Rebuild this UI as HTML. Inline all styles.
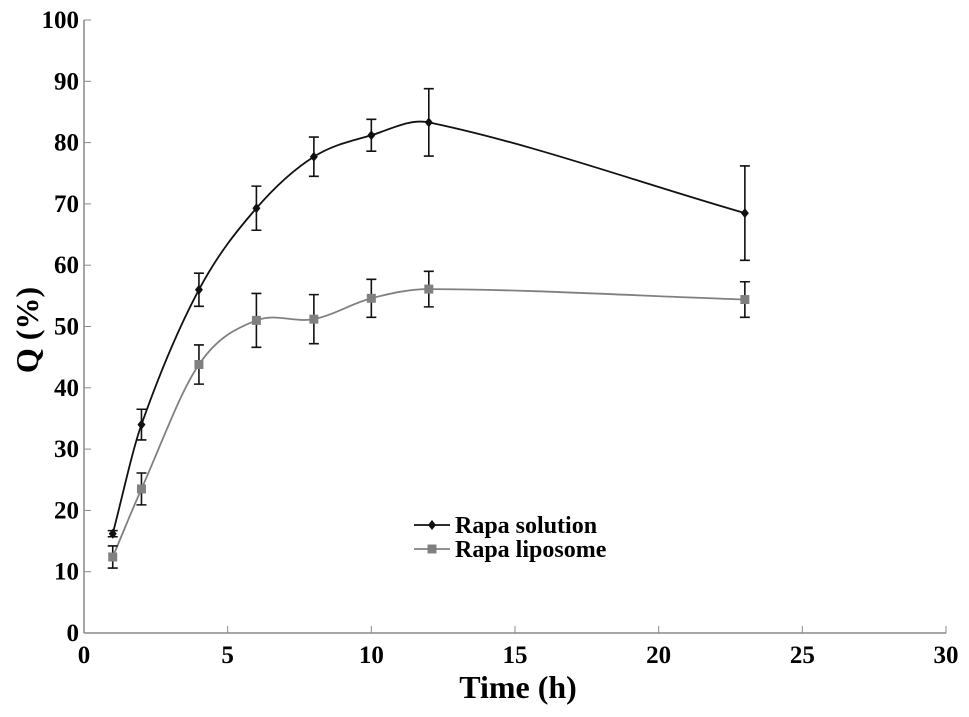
<!DOCTYPE html>
<html><head><meta charset="utf-8"><style>
html,body{margin:0;padding:0;background:#fff;}
svg{display:block;font-family:"Liberation Serif",serif;font-weight:bold;}
</style></head><body>
<svg id="chart" width="969" height="717"></svg>
<script>
const xValues=[1,2,4,6,8,10,12,23];
const solution=[16.2,34,56,69.3,77.7,81.2,83.3,68.5];
const solutionErr=[0.5,2.5,2.7,3.6,3.2,2.6,5.5,7.7];
const liposome=[12.4,23.5,43.8,51,51.2,54.6,56.1,54.4];
const liposomeErr=[1.8,2.6,3.2,4.4,4,3.1,2.9,2.9];
const xTicks=[0,5,10,15,20,25,30];
const yTicks=[0,10,20,30,40,50,60,70,80,90,100];

const NS="http://www.w3.org/2000/svg";
const svg=document.getElementById('chart');
const X0=84,X1=946,Y0=633,Y1=20;
const sx=v=>X0+(X1-X0)*v/30;
const sy=v=>Y0-(Y0-Y1)*v/100;
function mk(tag,attrs,parent){const e=document.createElementNS(NS,tag);for(const k in attrs)e.setAttribute(k,attrs[k]);(parent||svg).appendChild(e);return e;}

const axes=mk('g',{});


mk('line',{x1:X0,y1:Y1,x2:X0,y2:Y0,stroke:'#888','stroke-width':1.5},axes);
mk('line',{x1:X0,y1:Y0,x2:X1,y2:Y0,stroke:'#888','stroke-width':1.5},axes);
yTicks.forEach(t=>{
  mk('line',{x1:X0,y1:sy(t),x2:X0+7,y2:sy(t),stroke:'#888','stroke-width':1},axes);
  const tx=mk('text',{x:X0-5,y:sy(t)+8,'text-anchor':'end','font-size':25},axes);
  tx.textContent=t;
  
  
});
xTicks.forEach(t=>{
  mk('line',{x1:sx(t),y1:Y0,x2:sx(t),y2:Y0-7,stroke:'#888','stroke-width':1},axes);
  const tx=mk('text',{x:sx(t),y:Y0+30,'text-anchor':'middle','font-size':25},axes);
  tx.textContent=t;
  
  
});
const xt=mk('text',{x:518,y:698,'text-anchor':'middle','font-size':32});
xt.textContent='Time (h)';


const yt=mk('text',{x:0,y:0,'text-anchor':'middle','font-size':32,transform:'translate(38,330) rotate(-90)'});
yt.textContent='Q (%)';



function smooth(pts){
  const n=pts.length,m=[];
  for(let i=0;i<n;i++){
    const a=pts[Math.max(i-1,0)],b=pts[Math.min(i+1,n-1)];
    m.push((b[1]-a[1])/(b[0]-a[0]));
  }
  let d=`M${pts[0][0]},${pts[0][1]}`;
  for(let i=0;i<n-1;i++){
    const p1=pts[i],p2=pts[i+1],h=(p2[0]-p1[0])/3;
    d+=` C${p1[0]+h},${p1[1]+m[i]*h} ${p2[0]-h},${p2[1]-m[i+1]*h} ${p2[0]},${p2[1]}`;
  }
  return d;
}
function series(vals,errs,color,marker,name){
  const g=mk('g',{});
  
  
  const pts=xValues.map((x,i)=>[sx(x),sy(vals[i])]);
  const p=mk('path',{d:smooth(pts),fill:'none',stroke:color,'stroke-width':1.8},g);
  
  
  xValues.forEach((x,i)=>{
    const cx=sx(x),hi=sy(vals[i]+errs[i]),lo=sy(vals[i]-errs[i]);
    const eb=mk('path',{d:`M${cx},${hi}V${lo}M${cx-5},${hi}H${cx+5}M${cx-5},${lo}H${cx+5}`,stroke:'#111','stroke-width':1.6,fill:'none'},g);
    
    
    const cy=sy(vals[i]);
    let m;
    if(marker==='diamond') m=mk('path',{d:`M${cx},${cy-5}L${cx+4},${cy}L${cx},${cy+5}L${cx-4},${cy}Z`,fill:color},g);
    else m=mk('rect',{x:cx-4.5,y:cy-4.5,width:9,height:9,fill:color},g);
    
    
  });
}
series(liposome,liposomeErr,'#808080','square','liposome-series');
series(solution,solutionErr,'#111','diamond','solution-series');

const lg=mk('g',{});


[['Rapa solution','#111','diamond',525],['Rapa liposome','#808080','square',549]].forEach(([t,c,m,y])=>{
  const e=mk('g',{},lg);
  
  
  mk('line',{x1:414,y1:y,x2:450,y2:y,stroke:c,'stroke-width':1.8},e);
  if(m==='diamond') mk('path',{d:`M432,${y-5}L436,${y}L432,${y+5}L428,${y}Z`,fill:c},e);
  else mk('rect',{x:427.5,y:y-4.5,width:9,height:9,fill:c},e);
  const tx=mk('text',{x:455,y:y+8,'font-size':24},e);
  tx.textContent=t;
});
</script>
</body></html>
